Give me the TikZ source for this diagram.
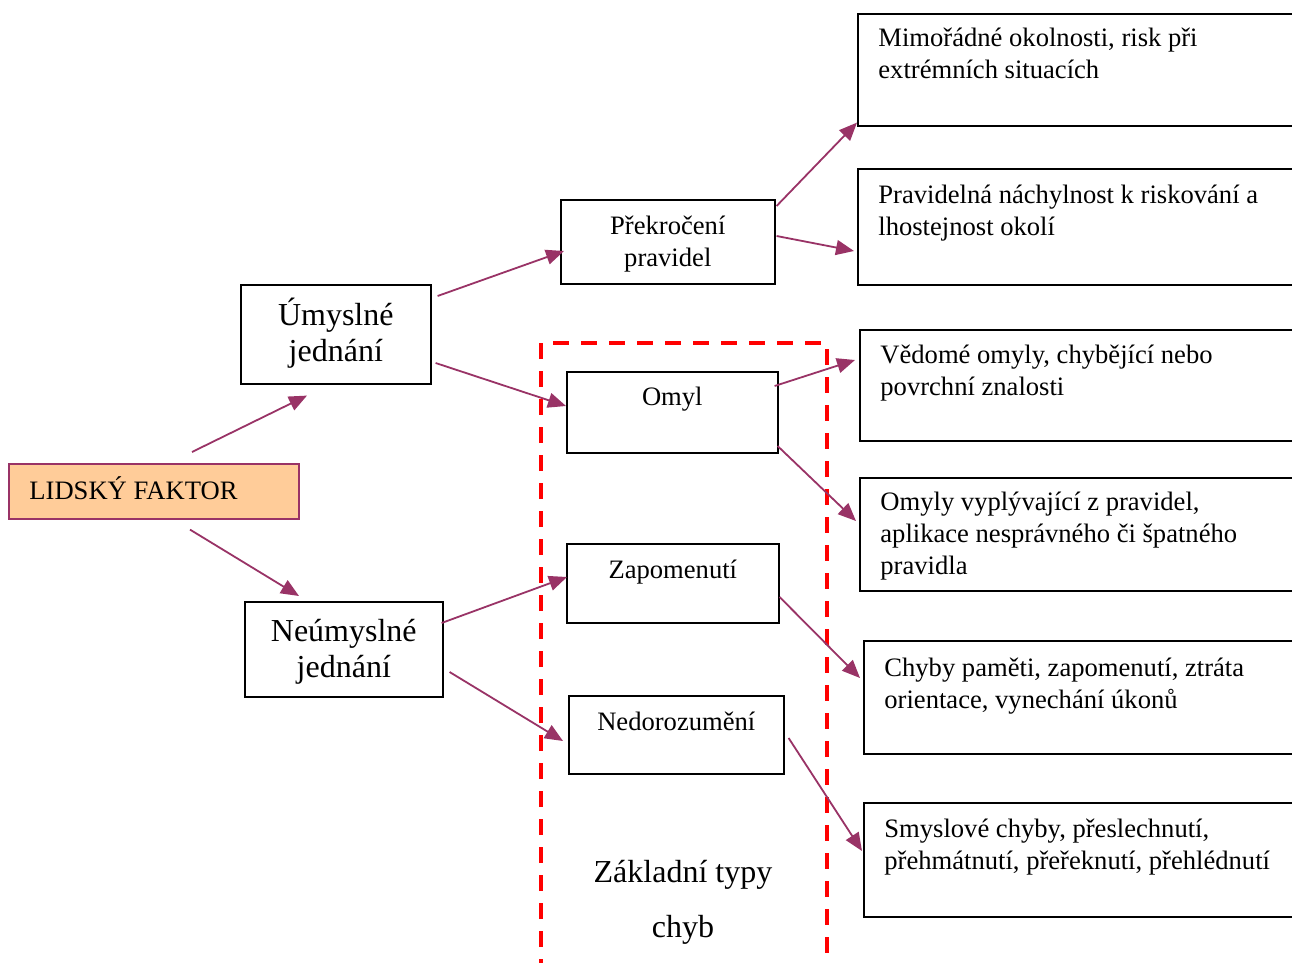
\documentclass[tikz,border=0pt]{standalone}
\usepackage{fontspec}
\setmainfont{Liberation Serif}
\usetikzlibrary{arrows.meta,calc}
\definecolor{plum}{RGB}{153,51,102}
\definecolor{peach}{RGB}{255,204,153}
\tikzset{
  box/.style={draw=black, line width=0.8pt, inner sep=0pt, anchor=north west},
  small/.style={font=\fontsize{13.3}{16}\selectfont, inner sep=0pt},
  big/.style={font=\fontsize{16}{18}\selectfont, inner sep=0pt},
  conn/.style={draw=plum, line width=0.9pt, -{Triangle[length=9pt,width=7.5pt]}, fill=plum},
  frame/.style={draw=red, line width=2pt, dash pattern=on 8pt off 6pt}
}
\begin{document}
\begin{tikzpicture}[x=0.5pt, y=-0.5pt]
\clip (0,0) rectangle (1292,963);
\fill[white] (0,0) rectangle (1292,963);

% root node
\node[box, draw=plum, fill=peach, minimum width=145pt, minimum height=27.5pt] (lf) at (8,463) {};
\node[small, anchor=base west] at ($(lf.north west)+(21,36)$) {LIDSKÝ FAKTOR};

% second level (multi-line labels are anchored at the baseline of their last line)
\node[box, minimum width=95pt, minimum height=49.5pt] (um) at (240,284) {};
\node[big, anchor=base, align=center] at ($(um.north)+(0,77)$) {Úmyslné\\jednání};
\node[box, minimum width=99pt, minimum height=47.5pt] (nu) at (244,601) {};
\node[big, anchor=base, align=center] at ($(nu.north)+(0,76)$) {Neúmyslné\\jednání};

% third level
\node[box, minimum width=107pt, minimum height=42pt] (pp) at (560,199) {};
\node[small, anchor=base, align=center] at ($(pp.north)+(0,67)$) {Překročení\\pravidel};
\node[box, minimum width=105.5pt, minimum height=40.5pt] (om) at (566,371) {};
\node[small, anchor=base] at ($(om.north)+(0,34)$) {Omyl};
\node[box, minimum width=106pt, minimum height=39.5pt] (za) at (566,543) {};
\node[small, anchor=base] at ($(za.north)+(0,35)$) {Zapomenutí};
\node[box, minimum width=107.5pt, minimum height=39pt] (ne) at (568,695) {};
\node[small, anchor=base] at ($(ne.north)+(0,35)$) {Nedorozumění};

% description boxes (running off the right edge)
\node[box, minimum width=250pt, minimum height=56pt] (r1) at (857,13) {};
\node[small, anchor=base west, align=left] at ($(r1.north west)+(21,66)$) {Mimořádné okolnosti, risk při\\extrémních situacích};
\node[box, minimum width=250pt, minimum height=58pt] (r2) at (857,168) {};
\node[small, anchor=base west, align=left] at ($(r2.north west)+(21,67)$) {Pravidelná náchylnost k riskování a\\lhostejnost okolí};
\node[box, minimum width=250pt, minimum height=55.5pt] (r3) at (859,329) {};
\node[small, anchor=base west, align=left] at ($(r3.north west)+(21,66)$) {Vědomé omyly, chybějící nebo\\povrchní znalosti};
\node[box, minimum width=250pt, minimum height=56.5pt] (r4) at (859,477) {};
\node[small, anchor=base west, align=left] at ($(r4.north west)+(21,97)$) {Omyly vyplývající z pravidel,\\aplikace nesprávného či špatného\\pravidla};
\node[box, minimum width=250pt, minimum height=56.5pt] (r5) at (863,640) {};
\node[small, anchor=base west, align=left] at ($(r5.north west)+(21,68)$) {Chyby paměti, zapomenutí, ztráta\\orientace, vynechání úkonů};
\node[box, minimum width=250pt, minimum height=57pt] (r6) at (863,802) {};
\node[small, anchor=base west, align=left] at ($(r6.north west)+(21,67)$) {Smyslové chyby, přeslechnutí,\\přehmátnutí, přeřeknutí, přehlédnutí};

% dashed frame around the basic error types
\draw[frame] (541,975) -- (541,343) -- (827,343) -- (827,975);
\node[big, anchor=base, align=center, font=\fontsize{16}{27.5}\selectfont] (zt) at (683,937) {Základní typy\\chyb};

% connectors
\draw[conn] ($(lf.north west)+(184,-11)$) -- ($(um.south west)+(67,11)$);
\draw[conn] ($(lf.south west)+(182,10)$) -- ($(nu.north west)+(55,-5)$);
\draw[conn] ($(um.north east)+(6,12)$) -- ($(pp.north west)+(4,52)$);
\draw[conn] ($(um.north east)+(4,79)$) -- ($(om.north west)+(0,35)$);
\draw[conn] ($(nu.north east)+(-2,22)$) -- ($(za.north west)+(1,34)$);
\draw[conn] ($(nu.north east)+(6,71)$) -- ($(ne.north west)+(-5,46)$);
\draw[conn] ($(pp.north east)+(1,7)$) -- ($(r1.south west)+(0,-4)$);
\draw[conn] ($(pp.north east)+(1,37)$) -- ($(r2.north west)+(-3,83)$);
\draw[conn] ($(om.north east)+(-4,15)$) -- ($(r3.north west)+(-4,31)$);
\draw[conn] ($(om.north east)+(-1,75)$) -- ($(r4.north west)+(-3,44)$);
\draw[conn] ($(za.north east)+(0,54)$) -- ($(r5.north west)+(-3,38)$);
\draw[conn] ($(ne.north east)+(4,43)$) -- ($(r6.north west)+(-1,49)$);
\end{tikzpicture}
\end{document}
